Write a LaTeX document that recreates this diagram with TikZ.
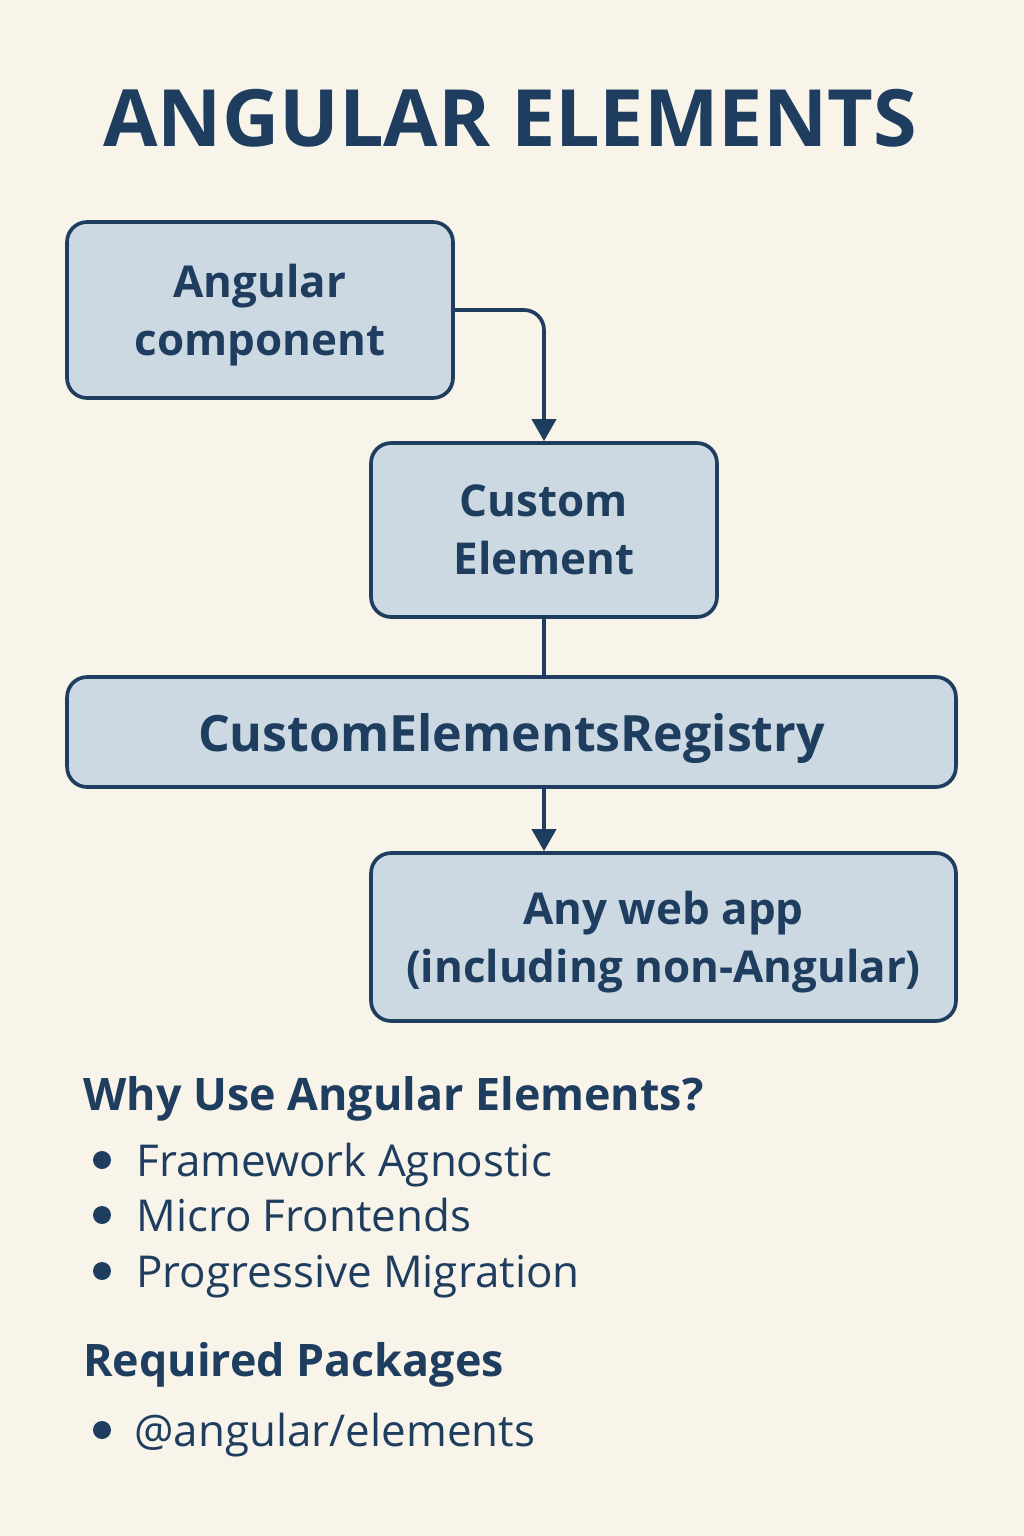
\documentclass[tikz,border=0pt]{standalone}
\usepackage{fontspec}
\setmainfont{Open Sans}
\usetikzlibrary{arrows.meta, positioning, calc}
\definecolor{paper}{HTML}{F8F4EA}
\definecolor{boxfill}{HTML}{CCD9E3}
\definecolor{navy}{HTML}{1F3E5F}

\begin{document}
\begin{tikzpicture}[x=0.02cm, y=-0.02cm,
    box/.style={draw=navy, fill=boxfill, line width=2.1pt, rounded corners=0.4cm,
      align=center, text=navy, text depth=-0.15cm, font=\fontsize{25}{33}\selectfont\bfseries},
    link/.style={draw=navy, line width=2.1pt},
    arr/.style={link, -{Triangle[length=0.44cm, width=0.48cm]}},
    item/.style={anchor=base west, text=navy, inner sep=0pt, font=\fontsize{25}{28}\selectfont},
    heading/.style={anchor=base west, text=navy, inner sep=0pt, font=\fontsize{25.5}{30}\selectfont\bfseries}]
      \fill[paper] (0, 0) rectangle (1024, 1536);
      \useasboundingbox (0, 0) rectangle (1024, 1536);

      \node[text=navy, font=\fontsize{45}{50}\selectfont\bfseries] (title) at (510, 118) {ANGULAR ELEMENTS};

      % flow boxes
      \node[box, minimum width=7.72cm, minimum height=3.52cm] (comp) at (260, 310) {Angular\\component};
      \node[box, minimum width=6.92cm, minimum height=3.48cm] (elem) at (544, 530) {Custom\\Element};
      \node[box, minimum width=17.78cm, minimum height=2.2cm, font=\fontsize{28.5}{33}\selectfont\bfseries] (reg) at (511.5, 732) {CustomElementsRegistry};
      \node[box, minimum width=11.7cm, minimum height=3.36cm] (app) at (663.5, 937) {Any web app\\(including non-Angular)};

      \draw[arr, rounded corners=0.4cm] (comp.east) -| (elem.north);
      \draw[link] (elem.south) -- (elem.south |- reg.north);
      \draw[arr] (elem.south |- reg.south) -- (elem.south |- app.north);

      % notes
      \node[heading] (why) at (83, 1110) {Why Use Angular Elements?};
      \foreach \y/\txt [count=\i] in {1160/Framework Agnostic, 1215/Micro Frontends, 1271/Progressive Migration} {
        \fill[navy] (102, \y) circle (0.18cm);
        \node[item] (why\i) at (136, \y+16) {\txt};
      }
      \node[heading] (req) at (83, 1376) {Required Packages};
      \fill[navy] (102, 1430) circle (0.18cm);
      \node[item] (req1) at (134, 1446) {@angular/elements};
    \end{tikzpicture}
\end{document}
